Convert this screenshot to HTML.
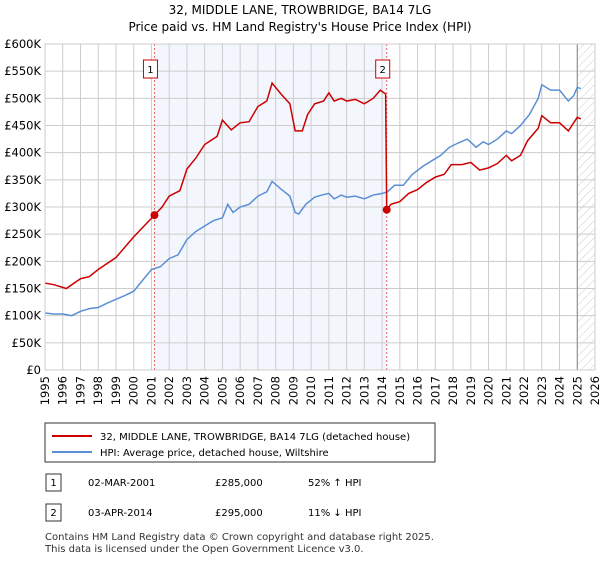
<!DOCTYPE html>
<html><head><meta charset="utf-8"><style>
body{margin:0;background:#fff;font-family:"Liberation Sans",sans-serif;}
svg text{font-family:"DejaVu Sans","Liberation Sans",sans-serif;}
</style></head><body>
<svg width="600" height="560" xmlns="http://www.w3.org/2000/svg">
<defs><pattern id="hatch" width="6" height="6" patternUnits="userSpaceOnUse" patternTransform="rotate(45)"><line x1="0" y1="0" x2="0" y2="6" stroke="#ccc" stroke-width="1"/></pattern></defs>
<text x="300" y="14" text-anchor="middle" font-size="12">32, MIDDLE LANE, TROWBRIDGE, BA14 7LG</text>
<text x="300" y="31" text-anchor="middle" font-size="12">Price paid vs. HM Land Registry's House Price Index (HPI)</text>
<g id="plot"></g>
<g>
<rect x="45" y="423" width="390" height="39" fill="#fff" stroke="#333"/>
<line x1="52" y1="436" x2="92" y2="436" stroke="#cc0000" stroke-width="2"/>
<text x="100" y="440" font-size="10">32, MIDDLE LANE, TROWBRIDGE, BA14 7LG (detached house)</text>
<line x1="52" y1="452" x2="92" y2="452" stroke="#5b8fd4" stroke-width="2"/>
<text x="100" y="456" font-size="10">HPI: Average price, detached house, Wiltshire</text>
</g>
<g>
<rect x="46" y="474" width="15" height="17" fill="#fff" stroke="#333"/>
<text x="53.5" y="486" text-anchor="middle" font-size="10">1</text>
<text x="88" y="486" font-size="10">02-MAR-2001</text>
<text x="215" y="486" font-size="10">£285,000</text>
<text x="308" y="486" font-size="10">52% ↑ HPI</text>
<rect x="46" y="504" width="15" height="17" fill="#fff" stroke="#333"/>
<text x="53.5" y="516" text-anchor="middle" font-size="10">2</text>
<text x="88" y="516" font-size="10">03-APR-2014</text>
<text x="215" y="516" font-size="10">£295,000</text>
<text x="308" y="516" font-size="10">11% ↓ HPI</text>
</g>
<text x="45" y="540" font-size="10" fill="#333">Contains HM Land Registry data © Crown copyright and database right 2025.</text>
<text x="45" y="552" font-size="10" fill="#333">This data is licensed under the Open Government Licence v3.0.</text>
</svg>
<script>
const yTicks=[0,50,100,150,200,250,300,350,400,450,500,550,600];
const yTickLabels=["£0","£50K","£100K","£150K","£200K","£250K","£300K","£350K","£400K","£450K","£500K","£550K","£600K"];
const years=[1995,1996,1997,1998,1999,2000,2001,2002,2003,2004,2005,2006,2007,2008,2009,2010,2011,2012,2013,2014,2015,2016,2017,2018,2019,2020,2021,2022,2023,2024,2025,2026];
const hpiT=[1995,1995.5,1996,1996.5,1997,1997.5,1998,1998.5,1999,1999.5,2000,2000.5,2001,2001.5,2002,2002.5,2003,2003.5,2004,2004.5,2005,2005.3,2005.6,2006,2006.5,2007,2007.5,2007.8,2008.3,2008.8,2009.1,2009.3,2009.7,2010.2,2010.6,2011,2011.3,2011.7,2012,2012.5,2013,2013.5,2014,2014.3,2014.7,2015.2,2015.7,2016.3,2016.8,2017.3,2017.8,2018.3,2018.8,2019.3,2019.7,2020,2020.5,2021,2021.3,2021.8,2022.3,2022.8,2023,2023.5,2024,2024.5,2024.8,2025,2025.2];
const hpiV=[105,103,103,100,108,113,115,123,130,137,145,165,185,190,205,212,240,255,265,275,280,305,290,300,305,320,328,347,333,320,290,287,305,318,322,325,315,322,318,320,315,322,325,328,340,340,360,375,385,395,410,418,425,410,420,415,425,440,435,450,470,500,525,515,515,495,505,520,518];
const priceT=[1995,1995.5,1996.2,1997,1997.5,1998,1999,2000,2001.17,2001.6,2002,2002.6,2003,2003.5,2004,2004.7,2005,2005.5,2006,2006.5,2007,2007.5,2007.8,2008.3,2008.8,2009.1,2009.5,2009.8,2010.2,2010.7,2011,2011.3,2011.7,2012,2012.5,2013,2013.5,2013.9,2014.2,2014.26,2014.5,2015,2015.5,2016,2016.5,2017,2017.5,2017.9,2018.5,2019,2019.5,2020,2020.5,2021,2021.3,2021.8,2022.2,2022.8,2023,2023.5,2024,2024.5,2025,2025.2];
const priceV=[160,157,150,168,172,185,207,245,285,300,320,330,370,390,415,430,460,442,455,457,485,495,528,508,490,440,440,470,490,495,510,495,500,495,498,490,500,515,508,295,305,310,325,332,345,355,360,378,378,382,368,372,380,395,385,395,422,445,468,455,455,440,465,462];
const saleT=[2001.17,2014.26];
const saleV=[285,295];
const saleLabels=["1","2"];
const X0=45,X1=595,Y0=370,Y1=44;
const x=t=>X0+(t-1995)/(2026-1995)*(X1-X0);
const y=v=>Y0-v/600*(Y0-Y1);
const NS="http://www.w3.org/2000/svg";
const g=document.getElementById('plot');
function mk(tag,attrs,parent){const e=document.createElementNS(NS,tag);for(const k in attrs)e.setAttribute(k,attrs[k]);(parent||g).appendChild(e);return e;}
let e;
e=mk('rect',{x:x(saleT[0]),y:Y1,width:x(saleT[1])-x(saleT[0]),height:Y0-Y1,fill:'#eef3fc',opacity:0.7});


e=mk('rect',{x:x(2025),y:Y1,width:X1-x(2025),height:Y0-Y1,fill:'url(#hatch)'});


yTicks.forEach((v,i)=>{
 e=mk('line',{x1:X0,x2:X1,y1:y(v),y2:y(v),stroke:'#ccc'});
 
 
 e=mk('text',{x:X0-4,y:y(v)+4,'text-anchor':'end','font-size':11.5});
 e.textContent=yTickLabels[i];
 
 
});
years.forEach(t=>{
 e=mk('line',{x1:x(t),x2:x(t),y1:Y1,y2:Y0,stroke:'#ccc'});
 
 
 e=mk('text',{x:0,y:0,'text-anchor':'end','font-size':11.5,transform:`translate(${x(t)+4},${Y0+6}) rotate(-90)`});
 e.textContent=t;
 
 
});
e=mk('line',{x1:x(2025),x2:x(2025),y1:Y1,y2:Y0,stroke:'#888'});


saleT.forEach((t,i)=>{
 e=mk('line',{x1:x(t),x2:x(t),y1:Y1,y2:Y0,stroke:'#e66','stroke-dasharray':'2,2'});
 
 
 e=mk('rect',{x:x(t)-11,y:60,width:14,height:18,fill:'#fff',stroke:'#cc0000'});
 
 
 e=mk('text',{x:x(t)-4,y:73,'text-anchor':'middle','font-size':10});
 e.textContent=saleLabels[i];
 
 
});
e=mk('polyline',{points:hpiT.map((t,i)=>x(t)+','+y(hpiV[i])).join(' '),fill:'none',stroke:'#5b8fd4','stroke-width':1.5});


e=mk('polyline',{points:priceT.map((t,i)=>x(t)+','+y(priceV[i])).join(' '),fill:'none',stroke:'#cc0000','stroke-width':1.5});


saleT.forEach((t,i)=>{
 e=mk('circle',{cx:x(t),cy:y(saleV[i]),r:4,fill:'#cc0000'});
 
 
});
e=mk('rect',{x:X0,y:Y1,width:X1-X0,height:Y0-Y1,fill:'none',stroke:'#ccc'});


</script>
</body></html>
